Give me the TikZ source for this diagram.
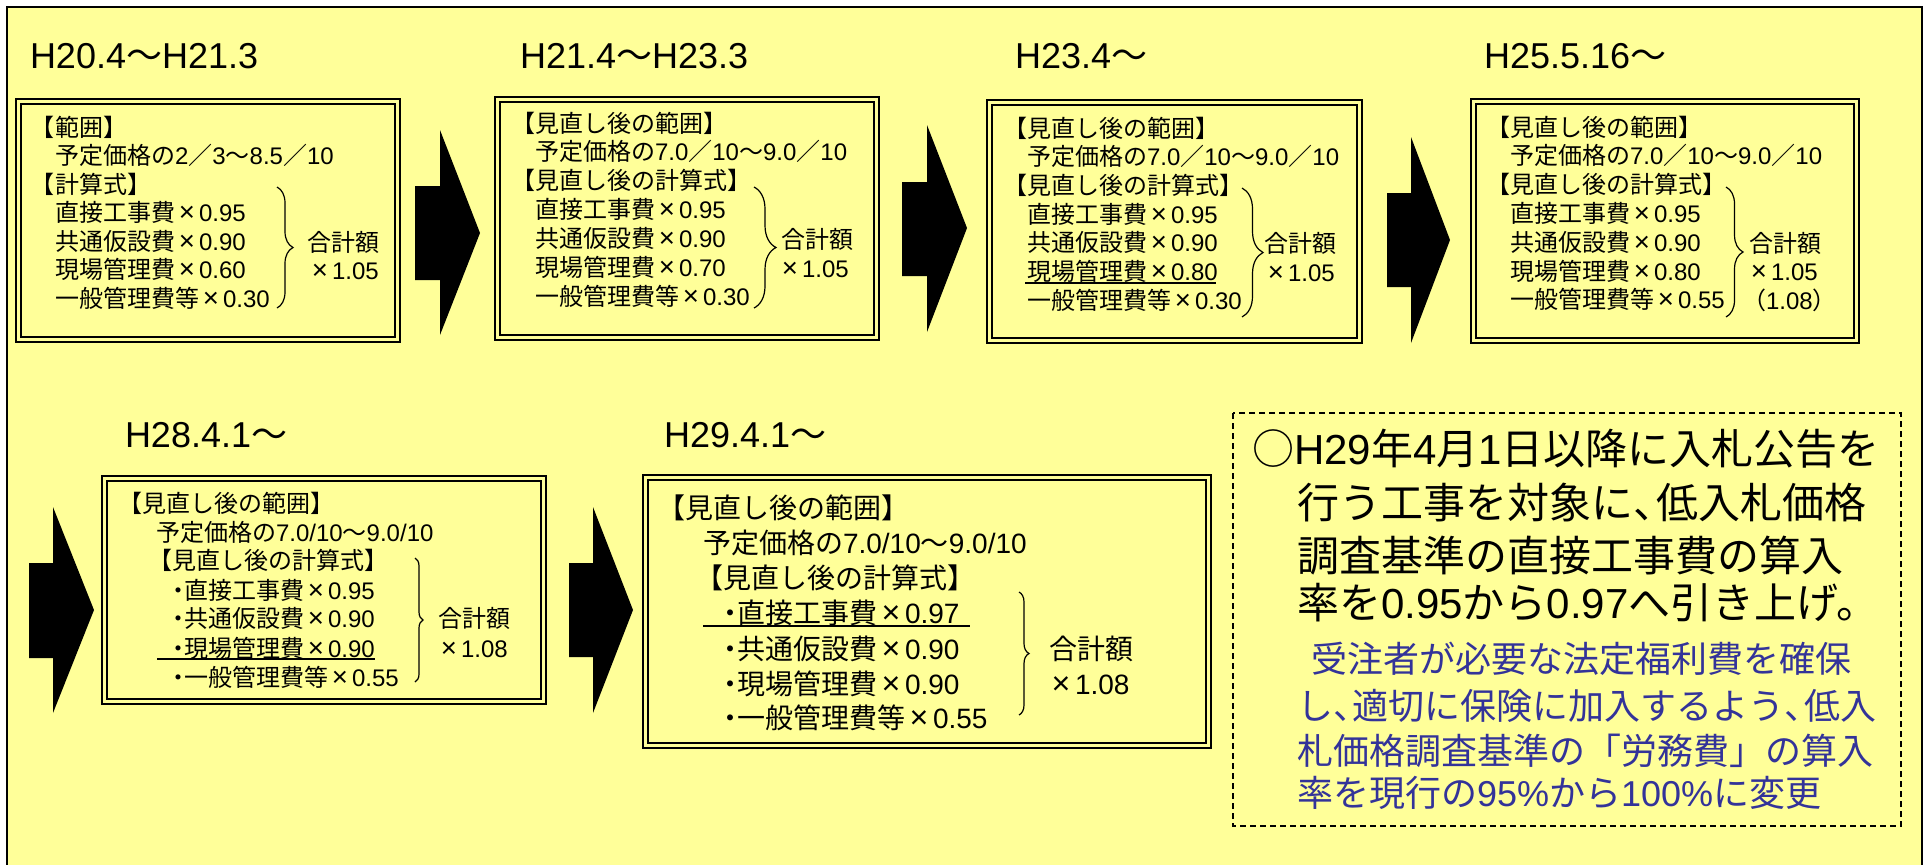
\documentclass[tikz,border=0pt]{standalone}
\usepackage{fontspec}
\setmainfont{Liberation Sans}
\newfontfamily\jpfont{Noto Sans CJK JP}
\usetikzlibrary{decorations.pathreplacing}
\definecolor{bgyellow}{RGB}{255,255,153}
\definecolor{noteblue}{RGB}{51,51,153}
% automatic switch to the Japanese font for CJK characters
\XeTeXinterchartokenstate=1
\newXeTeXintercharclass\cjkcls
\newcount\cjkc
\def\cjkrange#1#2{\cjkc=#1\relax
  \loop\XeTeXcharclass\cjkc=\cjkcls\relax
  \ifnum\cjkc<#2\relax\advance\cjkc by 1\relax\repeat}
\cjkrange{"3000}{"30FF}
\cjkrange{"4E00}{"9FFF}
\cjkrange{"FF00}{"FFEF}
\XeTeXcharclass"25CB=\cjkcls
\XeTeXinterchartoks 0 \cjkcls={\jpfont}
\XeTeXinterchartoks 4095 \cjkcls={\jpfont}
\XeTeXinterchartoks \cjkcls 0={\rmfamily}
\XeTeXinterchartoks \cjkcls 4095={\rmfamily}
\newcommand{\tms}{\makebox[1em]{\scalebox{1.15}{×}}}
\newcommand{\nk}{\makebox[0.5em]{・}}
\newcommand{\tou}{\makebox[0.55em][l]{、}}
\newcommand{\dblbox}[4]{%
  \draw[outerln] (#1+1.2,#2+1.2) rectangle (#3-1.2,#4-1.2);
  \draw[innerln] (#1+6,#2+6) rectangle (#3-6,#4-6);}
\tikzset{
  lbl/.style={anchor=base west, inner sep=0pt, outer sep=0pt},
  f12/.style={lbl, font=\fontsize{12}{14}\selectfont},
  f14/.style={lbl, font=\fontsize{14}{17}\selectfont},
  ttl/.style={lbl, font=\fontsize{18}{21}\selectfont},
  big/.style={lbl, font=\fontsize{21}{25}\selectfont},
  blu/.style={lbl, font=\fontsize{18}{21}\selectfont, text=noteblue},
  outerln/.style={line width=1.2pt},
  innerln/.style={line width=0.8pt},
  brc/.style={decorate, decoration={brace, amplitude=#1}, line width=0.6pt},
  ul/.style={line width=0.6pt},
  blockarrow/.style={fill=black},
  notebox/.style={line width=1pt, dash pattern=on 3pt off 2pt},
}
\begin{document}
\begin{tikzpicture}[x=0.5pt,y=-0.5pt]
\useasboundingbox (0,0) rectangle (1930,864);
\fill[white] (0,0) rectangle (1930,864);
\begin{scope}
  \clip (0,0) rectangle (1930,864);
  \draw[line width=1pt, fill=bgyellow] (7,7) rectangle (1922,900);
\end{scope}

% titles
\node[ttl] (t1) at (30,68) {H20.4～H21.3};
\node[ttl] (t2) at (520,68) {H21.4～H23.3};
\node[ttl] (t3) at (1015,68) {H23.4～};
\node[ttl] (t4) at (1484,68) {H25.5.16～};
\node[ttl] (t5) at (125,447) {H28.4.1～};
\node[ttl] (t6) at (664,447) {H29.4.1～};

% boxes
\dblbox{15}{98}{401}{343}
\dblbox{494}{96}{880}{341}
\dblbox{986}{99}{1363}{344}
\dblbox{1470}{98}{1860}{344}
\dblbox{101}{475}{547}{705}
\dblbox{642}{474}{1212}{749}

% block arrows
\fill[blockarrow] (415,186) -- (440,186) -- (440,130) -- (480,233) -- (440,335) -- (440,280) -- (415,280) -- cycle;
\fill[blockarrow] (902,182) -- (927,182) -- (927,125) -- (967,228) -- (927,332) -- (927,276) -- (902,276) -- cycle;
\fill[blockarrow] (1387,193) -- (1411,193) -- (1411,137) -- (1450,240) -- (1411,343) -- (1411,287) -- (1387,287) -- cycle;
\fill[blockarrow] (29,563) -- (53,563) -- (53,507) -- (94,610) -- (53,713) -- (53,658) -- (29,658) -- cycle;
\fill[blockarrow] (569,563) -- (593,563) -- (593,507) -- (633,610) -- (593,713) -- (593,657) -- (569,657) -- cycle;

% box 1
\foreach \txt [count=\i] in {【範囲】,　予定価格の2／3～8.5／10,【計算式】,　直接工事費\tms{}0.95,　共通仮設費\tms{}0.90,　現場管理費\tms{}0.60,　一般管理費等\tms{}0.30}
  \node[f12] (b1-\i) at (31,{136+28.5*(\i-1)}) {\txt};
\draw[brc=8pt] (277,187) -- (277,308);
\node[f12] (b1s) at (307,251) {合計額};
\node[f12] (b1m) at (308,279) {\tms{}1.05};

% box 2
\foreach \txt [count=\i] in {【見直し後の範囲】,　予定価格の7.0／10～9.0／10,【見直し後の計算式】,　直接工事費\tms{}0.95,　共通仮設費\tms{}0.90,　現場管理費\tms{}0.70,　一般管理費等\tms{}0.30}
  \node[f12] (b2-\i) at (511,{132+28.9*(\i-1)}) {\txt};
\draw[brc=11pt] (754,187) -- (754,308);
\node[f12] (b2s) at (781,248) {合計額};
\node[f12] (b2m) at (778,277) {\tms{}1.05};

% box 3
\foreach \txt [count=\i] in {【見直し後の範囲】,　予定価格の7.0／10～9.0／10,【見直し後の計算式】,　直接工事費\tms{}0.95,　共通仮設費\tms{}0.90,　現場管理費\tms{}0.80,　一般管理費等\tms{}0.30}
  \node[f12] (b3-\i) at (1003,{137+28.7*(\i-1)}) {\txt};
\draw[ul] (1025,283) -- (1216,283);
\draw[brc=10.5pt] (1242,188) -- (1242,317);
\node[f12] (b3s) at (1264,252) {合計額};
\node[f12] (b3m) at (1264,281) {\tms{}1.05};

% box 4
\foreach \txt [count=\i] in {【見直し後の範囲】,　予定価格の7.0／10～9.0／10,【見直し後の計算式】,　直接工事費\tms{}0.95,　共通仮設費\tms{}0.90,　現場管理費\tms{}0.80,　一般管理費等\tms{}0.55}
  \node[f12] (b4-\i) at (1486,{136+28.8*(\i-1)}) {\txt};
\draw[brc=8.5pt] (1726,187) -- (1726,317);
\node[f12] (b4s) at (1749,252) {合計額};
\node[f12] (b4m) at (1747,280) {\tms{}1.05};
\node[f12] (b4n) at (1742,309) {（1.08）};

% box 5
\node[f12] (b5-1) at (118,512) {【見直し後の範囲】};
\node[f12] (b5-2) at (156,541) {予定価格の7.0/10～9.0/10};
\node[f12] (b5-3) at (148,569) {【見直し後の計算式】};
\node[f12] (b5-4) at (172,599) {\nk 直接工事費\tms{}0.95};
\node[f12] (b5-5) at (172,627) {\nk 共通仮設費\tms{}0.90};
\node[f12] (b5-6) at (172,657) {\nk 現場管理費\tms{}0.90};
\node[f12] (b5-7) at (172,686) {\nk 一般管理費等\tms{}0.55};
\draw[ul] (157,659) -- (375,659);
\draw[brc=4pt] (415,558) -- (415,682);
\node[f12] (b5s) at (438,627) {合計額};
\node[f12] (b5m) at (437,657) {\tms{}1.08};

% box 6
\node[f14] (b6-1) at (657,518) {【見直し後の範囲】};
\node[f14] (b6-2) at (703,553) {予定価格の7.0/10～9.0/10};
\node[f14] (b6-3) at (695,588) {【見直し後の計算式】};
\node[f14] (b6-4) at (723,623) {\nk 直接工事費\tms{}0.97};
\node[f14] (b6-5) at (723,659) {\nk 共通仮設費\tms{}0.90};
\node[f14] (b6-6) at (723,694) {\nk 現場管理費\tms{}0.90};
\node[f14] (b6-7) at (723,728) {\nk 一般管理費等\tms{}0.55};
\draw[ul] (703,626) -- (970,626);
\draw[brc=5pt] (1019,592) -- (1019,715);
\node[f14] (b6s) at (1049,659) {合計額};
\node[f14] (b6m) at (1047,694) {\tms{}1.08};

% note box
\draw[notebox] (1233,413) rectangle (1901,826);
\node[big] (n1) at (1252,464) {○H29年4月1日以降に入札公告を};
\node[big] (n2) at (1297,518) {行う工事を対象に\tou 低入札価格};
\node[big] (n3) at (1297,571) {調査基準の直接工事費の算入};
\node[big] (n4) at (1297,618) {率を0.95から0.97へ引き上げ。};
\node[blu] (m1) at (1311,672) {受注者が必要な法定福利費を確保};
\node[blu] (m2) at (1297,719) {し\tou 適切に保険に加入するよう\tou 低入};
\node[blu] (m3) at (1297,764) {札価格調査基準の「労務費」の算入};
\node[blu] (m4) at (1297,806) {率を現行の95\%から100\%に変更};
\end{tikzpicture}
\end{document}
